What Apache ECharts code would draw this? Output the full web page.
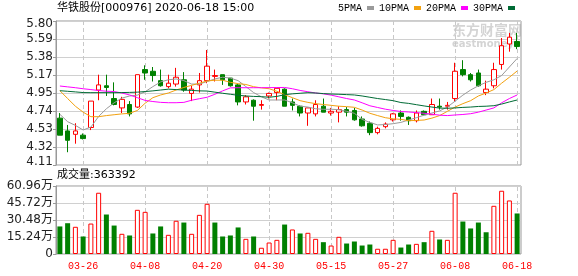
<!DOCTYPE html>
<html><head><meta charset="utf-8">
<script src="https://cdn.jsdelivr.net/npm/echarts@6/dist/echarts.min.js"></script>
<style>html,body{margin:0;padding:0;background:#fff}#c{width:578px;height:276px}</style>
</head><body><div id="c"></div>
<script>
const dates = ['03-23','03-24','03-25','03-26','03-27','03-30','03-31','04-01','04-02','04-03','04-07','04-08','04-09','04-10','04-13','04-14','04-15','04-16','04-17','04-20','04-21','04-22','04-23','04-24','04-27','04-28','04-29','04-30','05-06','05-07','05-08','05-11','05-12','05-13','05-14','05-15','05-18','05-19','05-20','05-21','05-22','05-25','05-26','05-27','05-28','05-29','06-01','06-02','06-03','06-04','06-05','06-08','06-09','06-10','06-11','06-12','06-15','06-16','06-17','06-18'];
const opens  = [4.66,4.51,4.47,4.46,4.55,4.99,5.04,4.89,4.78,4.82,4.79,5.23,5.21,5.10,5.03,5.06,5.11,4.95,5.05,5.10,5.15,5.17,5.13,5.05,4.85,4.87,4.81,4.92,4.96,5.00,4.85,4.80,4.72,4.71,4.80,4.72,4.73,4.76,4.75,4.65,4.60,4.49,4.56,4.64,4.72,4.67,4.63,4.74,4.70,4.80,4.80,4.89,5.23,5.17,5.19,4.96,5.04,5.29,5.53,5.56];
const closes = [4.46,4.40,4.51,4.42,4.86,5.05,5.02,4.82,4.88,4.71,5.17,5.19,5.16,5.04,5.07,5.14,4.99,5.00,5.10,5.27,5.16,5.11,5.04,4.85,4.91,4.80,4.82,4.95,5.01,4.80,4.81,4.72,4.78,4.82,4.73,4.74,4.76,4.73,4.64,4.57,4.49,4.54,4.59,4.71,4.68,4.63,4.72,4.70,4.82,4.79,4.81,5.21,5.17,5.11,5.04,5.00,5.23,5.51,5.61,5.50];
const lows   = [4.46,4.26,4.36,4.41,4.52,4.87,4.92,4.81,4.72,4.68,4.78,5.11,5.09,5.03,5.01,5.03,4.97,4.86,4.96,5.07,5.09,5.05,5.03,4.81,4.82,4.63,4.76,4.89,4.87,4.80,4.75,4.68,4.57,4.68,4.73,4.69,4.61,4.68,4.63,4.56,4.46,4.47,4.54,4.62,4.63,4.58,4.61,4.70,4.70,4.76,4.76,4.85,5.15,5.09,5.03,4.93,5.01,5.23,5.44,5.47];
const highs  = [4.72,4.58,4.60,4.48,4.86,5.17,5.17,5.08,4.91,4.86,5.17,5.28,5.26,5.23,5.17,5.25,5.20,5.04,5.19,5.46,5.23,5.17,5.13,5.06,4.93,4.88,4.87,4.96,5.01,5.01,4.89,4.81,4.78,4.87,4.89,4.78,4.80,4.79,4.78,4.68,4.62,4.56,4.61,4.72,4.75,4.68,4.75,4.75,4.89,4.89,4.85,5.31,5.34,5.19,5.23,5.10,5.31,5.60,5.66,5.66];
const volumes = [24.7,27.6,24.4,15.7,27.3,54.9,35.4,25.5,18.1,16.6,39.6,37.8,18.4,24.7,17.2,29.8,28.2,18.1,35.1,45.0,28.2,15.7,16.6,23.8,13.6,15.7,5.6,10.3,12.7,26.4,22.0,18.4,19.0,13.6,10.6,7.6,15.4,9.4,11.2,7.6,8.5,4.7,4.7,12.7,5.8,8.5,9.1,10.6,20.8,13.0,12.7,54.9,29.1,22.9,28.2,19.5,43.2,56.7,48.0,36.3392];
const ma5  = [4.705,4.618,4.575,4.521,4.555,4.68,4.77,4.84,4.895,4.92,4.93,4.97,5.03,5.085,5.11,5.12,5.10,5.06,5.06,5.09,5.12,5.14,5.13,5.10,5.03,4.96,4.91,4.873,4.873,4.873,4.84,4.80,4.79,4.77,4.764,4.764,4.76,4.74,4.717,4.645,4.61,4.58,4.585,4.595,4.61,4.638,4.665,4.695,4.72,4.745,4.79,4.86,4.93,4.99,5.04,5.08,5.11,5.16,5.26,5.36];
const ma10 = [4.982,4.89,4.80,4.73,4.677,4.677,4.69,4.70,4.71,4.717,4.75,4.835,4.90,4.932,4.955,4.99,5.02,5.045,5.07,5.096,5.105,5.105,5.08,5.065,5.055,5.029,5.015,5.005,4.975,4.935,4.90,4.865,4.845,4.83,4.82,4.81,4.80,4.795,4.787,4.755,4.717,4.69,4.665,4.652,4.646,4.630,4.633,4.638,4.66,4.69,4.74,4.79,4.83,4.865,4.92,4.955,4.995,5.07,5.14,5.213];
const ma20 = [5.037,5.027,5.017,5.005,4.995,4.984,4.976,4.972,4.955,4.932,4.90,4.868,4.855,4.845,4.841,4.841,4.845,4.87,4.888,4.905,4.94,4.98,5.015,5.017,5.017,5.017,5.017,5.018,5.019,5.02,5.005,4.985,4.97,4.955,4.945,4.93,4.91,4.89,4.873,4.84,4.805,4.785,4.765,4.75,4.738,4.732,4.725,4.717,4.706,4.695,4.69,4.697,4.703,4.712,4.73,4.755,4.78,4.84,4.89,4.932];
const ma30 = [4.982,4.975,4.968,4.96,4.959,4.959,4.959,4.959,4.96,4.962,4.965,4.972,4.98,4.99,5.0,4.995,4.99,4.985,4.98,4.978,4.965,4.952,4.94,4.928,4.92,4.915,4.912,4.905,4.915,4.935,4.945,4.952,4.959,4.955,4.948,4.943,4.94,4.936,4.932,4.92,4.905,4.89,4.878,4.865,4.843,4.833,4.818,4.803,4.79,4.778,4.776,4.78,4.786,4.79,4.797,4.80,4.806,4.825,4.85,4.873];
const priceTicks = ['4.11','4.32','4.53','4.74','4.95','5.17','5.38','5.59','5.80'];
const volTicks = ['0','15.24万','30.48万','45.72万','60.96万'];
const dateTicks = ['03-26','04-08','04-20','04-30','05-15','05-27','06-08','06-18'];
const maNames = ['5PMA','10PMA','20PMA','30PMA'];
const maColors = ['#9a9a9a','#f2a10f','#ff00ff','#006b35'];

const UP = '#ff0000', DOWN = '#008000';
const FONT = "'DejaVu Sans','Noto Sans CJK SC',sans-serif";
const pMin = parseFloat(priceTicks[0]), pMax = parseFloat(priceTicks[priceTicks.length-1]);
const pInt = (pMax - pMin) / (priceTicks.length - 1);
const vMax = parseFloat(volTicks[volTicks.length-1]);
const vInt = vMax / (volTicks.length - 1);

const candleData = dates.map((d, i) => [opens[i], closes[i], lows[i], highs[i]]);
const volData = volumes.map((v, i) => {
  const up = i === 0 ? closes[0] >= opens[0] : closes[i] > closes[i-1];
  return { value: v, itemStyle: up ? { color: '#fff', borderColor: UP, borderWidth: 1 } : { color: DOWN, borderColor: DOWN, borderWidth: 0 } };
});
const vLines = { silent: true, symbol: ['none','none'], z: 0, animation: false,
  label: { show: false }, lineStyle: { color: '#c8c8c8', type: [4,3], width: 1 },
  data: dateTicks.map(d => ({ xAxis: d })) };

const chart = echarts.init(document.getElementById('c'), null, { renderer: 'canvas' });
chart.setOption({
  animation: false,
  backgroundColor: '#fff',
  legend: {
    data: maNames, left: 338, top: 3, padding: 0, itemGap: 5, itemWidth: 7, itemHeight: 4,
    align: 'right', icon: 'rect', selectedMode: false,
    textStyle: { fontFamily: "'Liberation Mono',monospace", fontSize: 10, color: '#000' }
  },
  graphic: [
    { type: 'text', left: 57, top: 3, style: { text: '华铁股份[000976] 2020-06-18 15:00', font: '11px ' + FONT, fill: '#000' } },
    { type: 'text', left: 57, top: 170, style: { text: '成交量:' + Math.round(volumes[volumes.length-1] * 10000), font: '11px ' + FONT, fill: '#000' } },
    { type: 'text', left: 452, top: 23, z: -1, style: { text: '东方财富网', font: 'bold 14px "Noto Sans CJK SC"', fill: '#d4d4d4' } },
    { type: 'text', left: 452, top: 39, z: -1, style: { text: 'eastmoney', font: 'bold 10px "DejaVu Sans"', fill: '#d4d4d4' } }
  ],
  grid: [
    { left: 56, top: 21, width: 465, height: 144, show: true, borderColor: '#999', borderWidth: 1, backgroundColor: 'transparent' },
    { left: 56, top: 186, width: 465, height: 68, show: true, borderColor: '#999', borderWidth: 1, backgroundColor: 'transparent' }
  ],
  xAxis: [
    { type: 'category', gridIndex: 0, data: dates, boundaryGap: true,
      axisLine: { show: false }, axisTick: { show: false }, axisLabel: { show: false }, splitLine: { show: false } },
    { type: 'category', gridIndex: 1, data: dates, boundaryGap: true,
      axisLine: { show: false }, axisTick: { show: false }, splitLine: { show: false },
      axisLabel: { interval: (i, v) => dateTicks.includes(v), color: UP, fontFamily: "'Liberation Mono',monospace", fontSize: 10, margin: 7 } }
  ],
  yAxis: [
    { type: 'value', gridIndex: 0, min: pMin, max: pMax, interval: pInt,
      axisLine: { show: true, lineStyle: { color: '#999' } },
      axisTick: { show: true, length: 3, lineStyle: { color: '#999' } },
      splitLine: { show: true, lineStyle: { color: '#d0d0d0', width: 1 } },
      axisLabel: { margin: 3, color: '#222', fontFamily: FONT, fontSize: 12,
        formatter: (v) => {
          const k = Math.round((v - pMin) / pInt);
          const t = priceTicks[k];
          if (k === 0) return '{b|' + t + '}';
          if (k === priceTicks.length - 1) return '{t|' + t + '}';
          return '{n|' + t + '}';
        },
        rich: {
          n: { fontFamily: FONT, fontSize: 12, color: '#222' },
          t: { fontFamily: FONT, fontSize: 12, color: '#222', padding: [6,0,0,0] },
          b: { fontFamily: FONT, fontSize: 12, color: '#222', padding: [0,0,6,0] }
        } } },
    { type: 'value', gridIndex: 1, min: 0, max: vMax, interval: vInt,
      axisLine: { show: true, lineStyle: { color: '#999' } },
      axisTick: { show: true, length: 3, lineStyle: { color: '#999' } },
      splitLine: { show: true, lineStyle: { color: '#d0d0d0', width: 1 } },
      axisLabel: { margin: 3, color: '#222', fontFamily: FONT, fontSize: 12,
        formatter: (v) => volTicks[Math.round(v / vInt)] } }
  ],
  series: [
    { type: 'candlestick', name: 'K', xAxisIndex: 0, yAxisIndex: 0, data: candleData, barWidth: 5,
      itemStyle: { color: '#fff', color0: DOWN, borderColor: UP, borderColor0: DOWN, borderWidth: 1 },
      markLine: vLines },
    ...maNames.map((n, k) => ({
      type: 'line', name: n, xAxisIndex: 0, yAxisIndex: 0, data: [ma5, ma10, ma20, ma30][k],
      symbol: 'none', showSymbol: false, smooth: false, z: 3,
      lineStyle: { width: 1, color: maColors[k] }, itemStyle: { color: maColors[k] }
    })),
    { type: 'bar', name: 'VOL', xAxisIndex: 1, yAxisIndex: 1, data: volData, barWidth: 5,
      markLine: vLines }
  ]
});
</script></body></html>
